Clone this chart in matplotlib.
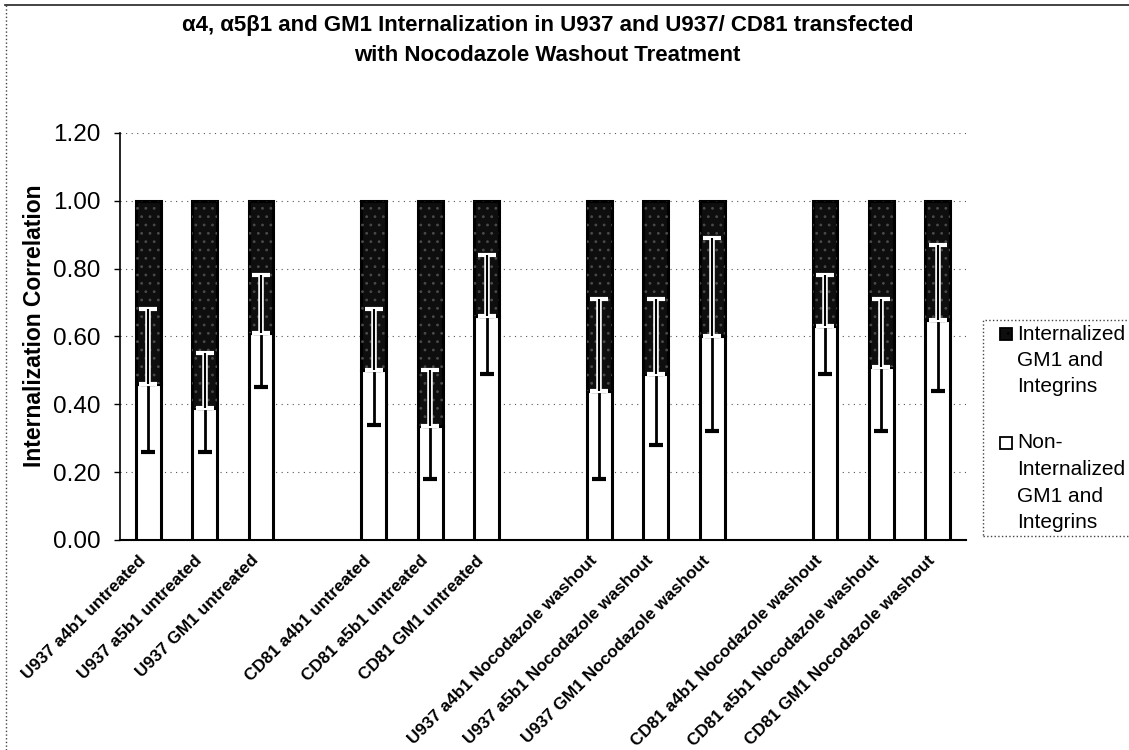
import matplotlib
matplotlib.use("Agg")
import matplotlib.pyplot as plt
from matplotlib.patches import Rectangle
from matplotlib.lines import Line2D
import numpy as np

plt.rcParams['font.family'] = ['Liberation Sans', 'DejaVu Sans']

categories = ["U937 a4b1 untreated", "U937 a5b1 untreated", "U937 GM1 untreated",
              "CD81 a4b1 untreated", "CD81 a5b1 untreated", "CD81 GM1 untreated",
              "U937 a4b1 Nocodazole washout", "U937 a5b1 Nocodazole washout",
              "U937 GM1 Nocodazole washout",
              "CD81 a4b1 Nocodazole washout", "CD81 a5b1 Nocodazole washout",
              "CD81 GM1 Nocodazole washout"]
non_internalized = [0.46, 0.39, 0.61, 0.50, 0.335, 0.66, 0.44, 0.49, 0.60, 0.63, 0.51, 0.65]
internalized = [0.54, 0.61, 0.39, 0.50, 0.665, 0.34, 0.56, 0.51, 0.40, 0.37, 0.49, 0.35]
non_err = [0.20, 0.13, 0.16, 0.16, 0.155, 0.17, 0.26, 0.21, 0.28, 0.14, 0.19, 0.21]
int_err = [0.22, 0.16, 0.17, 0.18, 0.165, 0.18, 0.27, 0.22, 0.29, 0.15, 0.20, 0.22]
legend_labels = [["Internalized", "GM1 and", "Integrins"],
                 ["Non-", "Internalized", "GM1 and", "Integrins"]]
group_size = 3

W, H = 1129, 750
fig = plt.figure(figsize=(W / 100, H / 100), dpi=100)
fx = lambda px: px / W
fy = lambda py: 1 - py / H

ax = fig.add_axes([0.1063, 0.28, 0.7493, 0.5427])

# positions with a one-slot gap between groups
pos = np.array([i + i // group_size for i in range(len(categories))], dtype=float)
w = 0.44

non = np.array(non_internalized)
intl = np.array(internalized)

dark = '#0e0e0e'
plt.rcParams['hatch.linewidth'] = 0.8
ax.bar(pos, non, width=w, color='white', edgecolor='black', linewidth=2.2, zorder=3)
ax.bar(pos, intl, width=w, bottom=non, color=dark, edgecolor='black', linewidth=2.2, zorder=3)
ax.bar(pos, intl, width=w, bottom=non, fill=False, hatch='..', edgecolor='#4a4a4a',
       linewidth=0, zorder=4)

# error bars: non-internalized (downward), internalized (upward from boundary)
ax.errorbar(pos, non, yerr=[non_err, [0] * len(non)], fmt='none', ecolor='black',
            elinewidth=2, capsize=4.7, capthick=3, zorder=5)
ax.errorbar(pos, non, yerr=[[0] * len(non), int_err], fmt='none', ecolor='white',
            elinewidth=4, capsize=6.5, capthick=3, zorder=5)
ax.errorbar(pos, non, yerr=[[0] * len(non), int_err], fmt='none', ecolor='black',
            elinewidth=1.5, capsize=0, zorder=6)

ax.set_xlim(-0.5, pos[-1] + 0.5)
ax.set_ylim(0, 1.2)
yt = np.arange(0, 1.21, 0.2)
ax.set_yticks(yt)
ax.set_yticklabels([f"{v:.2f}" for v in yt], fontsize=17.5)
ax.set_xticks(pos)
ax.set_xticklabels([])
for p, lab in zip(pos, categories):
    ax.annotate(lab, xy=(p, 0), xycoords=ax.get_xaxis_transform(),
                xytext=(-3.6, -13), textcoords='offset points',
                rotation=45, ha='right', va='center', rotation_mode='anchor',
                fontsize=12.3, fontweight='bold', annotation_clip=False)
ax.tick_params(axis='x', length=0)
ax.tick_params(axis='y', direction='out', length=4, width=1, pad=10)
ax.yaxis.grid(True, linestyle=(0, (1, 4)), color='#555555', linewidth=0.8, zorder=0)
ax.set_axisbelow(True)
for s in ['top', 'right']:
    ax.spines[s].set_visible(False)
ax.spines['left'].set_linewidth(1.2)
ax.spines['bottom'].set_linewidth(1.5)

ax.set_ylabel("Internalization Correlation", fontsize=16.5, fontweight='bold')
ax.yaxis.set_label_coords((46 - 120) / 846, (540 - 326) / 407)

fig.text(0.485, 0.966, "\u03b14, \u03b15\u03b21 and GM1 Internalization in U937 and U937/ CD81 transfected",
         ha='center', va='center', fontsize=16, fontweight='bold')
fig.text(0.485, 0.926, "with Nocodazole Washout Treatment",
         ha='center', va='center', fontsize=16, fontweight='bold')

# legend (drawn manually so markers align with first text line)
fig.add_artist(Rectangle((fx(983), fy(536)), fx(1140) - fx(983), fy(320) - fy(536),
                         transform=fig.transFigure, fill=False, edgecolor='#444444',
                         linewidth=1, linestyle=':'))
entry_tops = [334, 443]
line_step = 26.5
swatches = [dict(facecolor=dark, hatch='..'), dict(facecolor='white')]
for top, lines, sw in zip(entry_tops, legend_labels, swatches):
    fig.add_artist(Rectangle((fx(1000), fy(top + 6)), fx(12), 12 / H,
                             transform=fig.transFigure, edgecolor='black',
                             linewidth=1.3, **sw))
    for k, line in enumerate(lines):
        fig.text(fx(1017), fy(top + k * line_step), line, ha='left', va='center',
                 fontsize=15)

# outer chart border (top solid, left dotted)
fig.add_artist(Line2D([0.004, 1.0], [0.993, 0.993], transform=fig.transFigure,
                      color='#222222', linewidth=1.2))
fig.add_artist(Line2D([0.005, 0.005], [0.0, 0.993], transform=fig.transFigure,
                      color='#444444', linewidth=1, linestyle=':'))

fig.savefig("out.png", dpi=100)
